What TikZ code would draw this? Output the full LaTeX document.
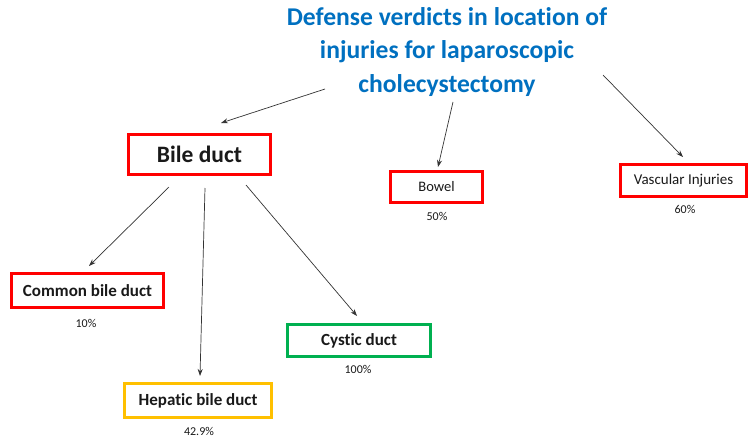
\documentclass[tikz,border=0pt]{standalone}
\usepackage{fontspec}
\setmainfont{Carlito}[RawFeature=-liga]
\usetikzlibrary{arrows.meta}
\definecolor{ttlblue}{RGB}{0,112,192}
\definecolor{boxred}{RGB}{255,0,0}
\definecolor{boxyellow}{RGB}{255,192,0}
\definecolor{boxgreen}{RGB}{0,176,80}
\definecolor{txt}{RGB}{25,25,25}
\tikzset{
  box/.style={draw=boxred, line width=2.8pt, inner sep=0pt, text=txt},
  pct/.style={font=\fontsize{12}{14}\selectfont, text=txt},
  conn/.style={draw=black!80, line width=0.7pt, -{Stealth[length=7pt,width=5pt]}},
}
\begin{document}
\begin{tikzpicture}[x=1pt,y=-1pt]
\useasboundingbox (0,0) rectangle (755,439);
% title
\node[text=ttlblue, font=\bfseries\fontsize{25.6}{33.5}\selectfont, align=center] (title) at (447,52)
  {Defense verdicts in location of\\injuries for laparoscopic\\cholecystectomy};
% boxes
\node[box, minimum width=142pt, minimum height=40pt, font=\bfseries\fontsize{23.5}{27}\selectfont] (bile) at (199.5,154.5) {Bile duct};
\node[box, minimum width=92pt, minimum height=31pt, font=\fontsize{14.5}{17}\selectfont] (bowel) at (436.5,187) {Bowel};
\node[pct] (p50) at (437,216) {50\%};
\node[box, minimum width=126pt, minimum height=32pt, font=\fontsize{15}{17}\selectfont] (vasc) at (683.5,180.5) {Vascular Injuries};
\node[pct] (p60) at (685,209) {60\%};
\node[box, minimum width=152pt, minimum height=34pt, font=\bfseries\fontsize{17}{19}\selectfont] (cbd) at (87.5,290.5) {Common bile duct};
\node[pct] (p10) at (86,323) {10\%};
\node[box, draw=boxyellow, minimum width=147pt, minimum height=34pt, font=\bfseries\fontsize{17}{19}\selectfont] (hbd) at (198,400.5) {Hepatic bile duct};
\node[pct] (p429) at (199,431) {42.9\%};
\node[box, draw=boxgreen, minimum width=143pt, minimum height=32pt, font=\bfseries\fontsize{17}{19}\selectfont] (cys) at (359,340.5) {Cystic duct};
\node[pct] (p100) at (358,369) {100\%};
% connector ends
\coordinate (t1) at (325,89);
\coordinate (e1) at (221,123);
\coordinate (t2) at (453,102);
\coordinate (e2) at (438,167);
\coordinate (t3) at (603,75);
\coordinate (e3) at (683,157);
\coordinate (b1) at (169,187);
\coordinate (e4) at (89,266);
\coordinate (b2) at (205,188);
\coordinate (e5) at (200,376);
\coordinate (b3) at (246,185);
\coordinate (e6) at (357,316);
\draw[conn] (t1) -- (e1);
\draw[conn] (t2) -- (e2);
\draw[conn] (t3) -- (e3);
\draw[conn] (b1) -- (e4);
\draw[conn] (b2) -- (e5);
\draw[conn] (b3) -- (e6);
\end{tikzpicture}
\end{document}
